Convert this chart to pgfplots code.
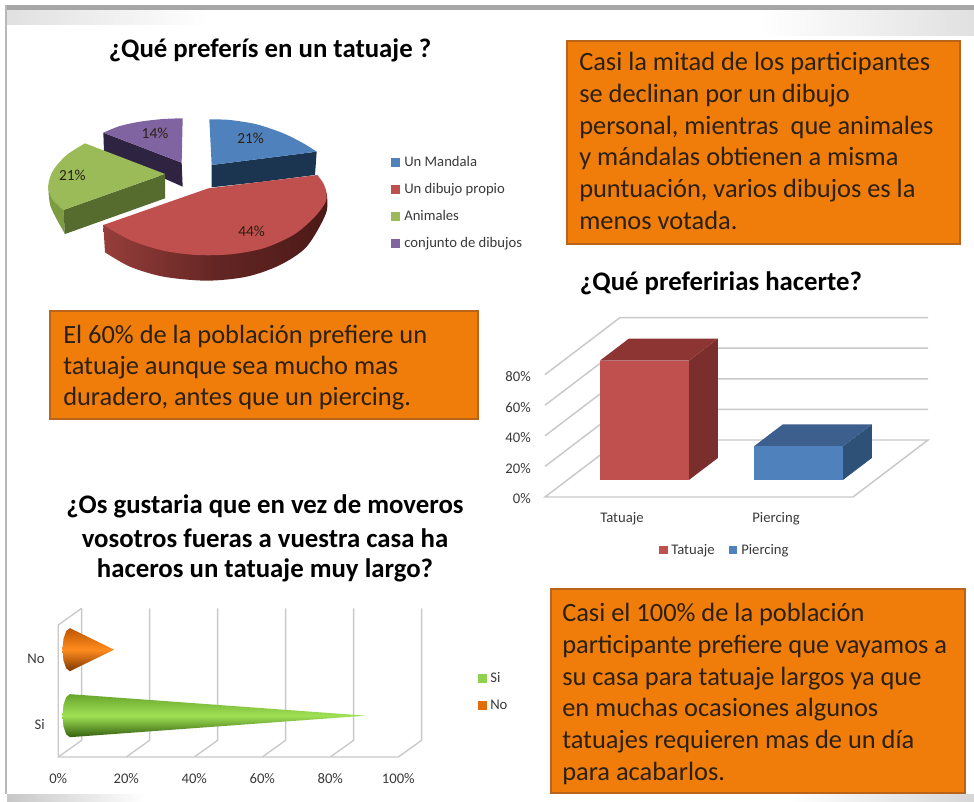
\documentclass[border=0pt]{standalone}
\usepackage{fontspec}
\usepackage{pgfplots}
\pgfplotsset{compat=1.18}
\setmainfont{Carlito}
\definecolor{boxor}{HTML}{F07D09}
\definecolor{boxed}{HTML}{B8641A}
\definecolor{gridc}{HTML}{C9C9C9}
\definecolor{ink}{HTML}{2B2012}
\definecolor{lab}{HTML}{3A3A3A}
\newcommand{\smalltxt}{\fontsize{11pt}{12pt}\selectfont\color{lab}}
\newcommand{\boxtxt}{\fontsize{19.8pt}{22pt}\selectfont\color{ink}}
\newcommand{\titletxt}{\fontsize{20.1pt}{22pt}\selectfont\bfseries\color{black}}
\begin{document}
\begin{tikzpicture}
\begin{scope}[x=0.75pt,y=-0.75pt,yshift=600.75pt]
  \fill[white] (0,0) rectangle (974,801);
  % slide frame
  \fill[left color=black!12,right color=white] (7,10) rectangle (210,25);
  \fill[left color=white,right color=black!12] (760,10) rectangle (974,36);
  \fill[left color=black!22,right color=white] (7,794) rectangle (145,801);
  \fill[left color=white,right color=black!16] (790,794) rectangle (974,801);
  \fill[black!35] (5,5) rectangle (974,10);
  \fill[black!28] (5,5) rectangle (7,794);
  % boxes
  \foreach \a/\b/\c/\d in {567/41/960/244, 50/311/478/419, 551/589/965/793}
    \draw[draw=boxed,fill=boxor,line width=1.1pt] (\a,\b) rectangle (\c,\d);
  % box 1 text
  \foreach \yy/\t in {70.7/Casi la mitad de los participantes,
                      102.4/se declinan por un dibujo,
                      134.1/{personal, mientras\ \ que animales},
                      165.8/y mándalas obtienen a misma,
                      197.5/{puntuación, varios dibujos es la},
                      229.2/menos votada.}
    \node[anchor=base west,inner sep=0pt] at (579,\yy) {\boxtxt\t};
  % box 2 text
  \foreach \yy/\t in {343/El 60\% de la población prefiere un,
                      374/tatuaje aunque sea mucho mas,
                      405/{duradero, antes que un piercing.}}
    \node[anchor=base west,inner sep=0pt] at (63,\yy) {\boxtxt\t};
  % box 3 text
  \foreach \yy/\t in {621.5/Casi el 100\% de la población,
                      653/participante prefiere que vayamos a,
                      685/su casa para tatuaje largos ya que,
                      716.5/en muchas ocasiones algunos,
                      748/tatuajes requieren mas de un día,
                      780/para acabarlos.}
    \node[anchor=base west,inner sep=0pt] at (562,\yy) {\boxtxt\t};
  % titles
  \node[inner sep=0pt] at (270,50) {\titletxt ¿Qué preferís en un tatuaje ?};
  \node[inner sep=0pt] at (721,283) {\titletxt ¿Qué preferirias hacerte?};
  \node[inner sep=0pt] at (265,506) {\titletxt ¿Os gustaria que en vez de moveros};
  \node[inner sep=0pt] at (265,538) {\titletxt vosotros fueras a vuestra casa ha};
  \node[inner sep=0pt] at (265,570) {\titletxt haceros un tatuaje muy largo?};
  % legend of pie
  \foreach \yy/\cc/\t in {162/4F81BD/Un Mandala,189/C0504D/Un dibujo propio,216/9BBB59/Animales,243/8064A2/conjunto de dibujos}{
    \definecolor{tmpc}{HTML}{\cc}
    \fill[tmpc] (391,\yy-4) rectangle (400,\yy+5);
    \node[anchor=mid west,inner sep=0pt,font=\smalltxt] at (404,\yy+1.5) {\t};
  }
  % legend of bars
  \definecolor{tmpc}{HTML}{C0504D}\fill[tmpc] (659,546) rectangle (668,554);
  \node[anchor=mid west,inner sep=0pt,font=\smalltxt] at (671,551.5) {Tatuaje};
  \definecolor{tmpc}{HTML}{4F81BD}\fill[tmpc] (729,546) rectangle (737,554);
  \node[anchor=mid west,inner sep=0pt,font=\smalltxt] at (741,551.5) {Piercing};
  % legend of cones
  \definecolor{tmpc}{HTML}{8FD14F}\fill[tmpc] (478,674) rectangle (487,683);
  \node[anchor=mid west,inner sep=0pt,font=\smalltxt] at (490,679) {Si};
  \definecolor{tmpc}{HTML}{E36C0A}\fill[tmpc] (478,701) rectangle (487,710);
  \node[anchor=mid west,inner sep=0pt,font=\smalltxt] at (490,706) {No};
\end{scope}

% ---------- pie: traced on a 960x630 grid spanning px (30,90)-(350,300)
\begin{axis}[at={(22.5pt,375.75pt)},anchor=south west,scale only axis,width=240pt,height=157.5pt,
  hide axis,clip=false,xmin=0,xmax=960,ymin=0,ymax=630,y dir=reverse]
% purple
\addplot[draw=none,fill={rgb,255:red,47;green,35;blue,66}] coordinates {(220,128)(455,218)(458,290)(222,185)} -- cycle;
\addplot[draw=none,smooth,fill={rgb,255:red,128;green,100;blue,162}] coordinates {(458,85)(400,87)(330,95)(270,108)(220,128)} -- (axis cs:455,218) -- cycle;
% blue
\addplot[draw=none,fill={rgb,255:red,27;green,52;blue,80}] coordinates {(545,225)(860,185)(855,255)(700,275)(545,292)} -- cycle;
\addplot[draw=none,smooth,fill={rgb,255:red,79;green,129;blue,189}] coordinates {(538,88)(600,90)(680,103)(760,130)(820,160)(860,185)} -- (axis cs:545,225) -- cycle;
% green
\addplot[draw=none,smooth,fill={rgb,255:red,125;green,155;blue,65}] coordinates {(55,285)(62,350)(105,432)} -- (axis cs:100,360) -- cycle;
\addplot[draw=none,fill={rgb,255:red,86;green,107;blue,46}] coordinates {(100,360)(405,252)(405,325)(105,432)} -- cycle;
\addplot[draw=none,smooth,fill={rgb,255:red,155;green,187;blue,89}] coordinates {(165,160)(110,195)(70,240)(55,285)(65,325)(100,360)} -- (axis cs:405,252) -- cycle;
% red
\addplot[draw=none,smooth,left color={rgb,255:red,150;green,62;blue,58},right color={rgb,255:red,75;green,25;blue,23},middle color={rgb,255:red,100;green,38;blue,36}] coordinates {(890,310)(888,370)(830,470)(750,525)(650,560)(530,572)(400,560)(300,530)(225,487)} -- (axis cs:220,405) -- cycle;
\addplot[draw=none,smooth,fill={rgb,255:red,192;green,80;blue,77}] coordinates {(862,255)(880,280)(890,310)(885,340)(850,385)(790,435)(700,475)(600,493)(500,495)(400,482)(300,450)(220,405)} -- (axis cs:535,295) -- cycle;
\node[text=ink,font=\fontsize{11.5pt}{12pt}\selectfont] at (axis cs:662,146) {21\%};
\node[text=ink,font=\fontsize{11.5pt}{12pt}\selectfont] at (axis cs:665,425) {44\%};
\node[text=ink,font=\fontsize{11.5pt}{12pt}\selectfont] at (axis cs:127,255) {21\%};
\node[text=ink,font=\fontsize{11.5pt}{12pt}\selectfont] at (axis cs:375,131) {14\%};
\end{axis}

% ---------- 3D bars
\begin{axis}[at={(408.75pt,228pt)},anchor=origin,
  x={(115.5pt,0pt)},y={(56.25pt,42.75pt)},z={(0pt,1.1475pt)},
  hide axis,clip=false,xmin=0,xmax=2,ymin=0,ymax=1,zmin=0,zmax=80]
\addplot3[gridc,line width=1.1pt] coordinates {(0,0,0)(2,0,0)(2,1,0)(0,1,0)} -- cycle;
\addplot3[gridc,line width=1.1pt] coordinates {(0,0,20)(0,1,20)(2,1,20)};
\addplot3[gridc,line width=1.1pt] coordinates {(0,0,40)(0,1,40)(2,1,40)};
\addplot3[gridc,line width=1.1pt] coordinates {(0,0,60)(0,1,60)(2,1,60)};
\addplot3[gridc,line width=1.1pt] coordinates {(0,0,80)(0,1,80)(2,1,80)};
% Tatuaje 78
\addplot3[draw=none,fill={rgb,255:red,122;green,47;blue,45}] coordinates {(0.789,0.298,0)(0.789,0.684,0)(0.789,0.684,78)(0.789,0.298,78)} -- cycle;
\addplot3[draw=none,fill={rgb,255:red,140;green,53;blue,51}] coordinates {(0.211,0.298,78)(0.789,0.298,78)(0.789,0.684,78)(0.211,0.684,78)} -- cycle;
\addplot3[draw=none,fill={rgb,255:red,192;green,80;blue,77}] coordinates {(0.211,0.298,0)(0.789,0.298,0)(0.789,0.298,78)(0.211,0.298,78)} -- cycle;
% Piercing 22
\addplot3[draw=none,fill={rgb,255:red,46;green,81;blue,120}] coordinates {(1.789,0.298,0)(1.789,0.684,0)(1.789,0.684,22)(1.789,0.298,22)} -- cycle;
\addplot3[draw=none,fill={rgb,255:red,60;green,95;blue,141}] coordinates {(1.211,0.298,22)(1.789,0.298,22)(1.789,0.684,22)(1.211,0.684,22)} -- cycle;
\addplot3[draw=none,fill={rgb,255:red,79;green,129;blue,189}] coordinates {(1.211,0.298,0)(1.789,0.298,0)(1.789,0.298,22)(1.211,0.298,22)} -- cycle;
\foreach \v in {0,20,40,60,80}{
  \edef\temp{\noexpand\node[anchor=east,inner sep=0pt,xshift=-10.5pt,yshift=-1.5pt,font=\noexpand\smalltxt] at (axis cs:0,0,\v) {\v\noexpand\%};}\temp
}
\node[inner sep=0pt,yshift=-16.5pt,font=\smalltxt] at (axis cs:0.5,0,0) {Tatuaje};
\node[inner sep=0pt,yshift=-16.5pt,font=\smalltxt] at (axis cs:1.5,0,0) {Piercing};
\end{axis}

% ---------- 3D cones
\begin{axis}[at={(43.7pt,33pt)},anchor=origin,
  x={(2.55pt,0pt)},y={(17.5pt,12.5pt)},z={(0pt,49.5pt)},
  hide axis,clip=false,xmin=0,xmax=100,ymin=0,ymax=1,zmin=0,zmax=2]
\addplot3[gridc,line width=1pt] coordinates {(0,1,2)(0,0,2)(0,0,0)(100,0,0)(100,1,0)(100,1,2)};
\addplot3[gridc,line width=1pt] coordinates {(0,0,0)(0,1,0)(0,1,2)};
\addplot3[gridc,line width=1pt] coordinates {(20,0,0)(20,1,0)(20,1,2)};
\addplot3[gridc,line width=1pt] coordinates {(40,0,0)(40,1,0)(40,1,2)};
\addplot3[gridc,line width=1pt] coordinates {(60,0,0)(60,1,0)(60,1,2)};
\addplot3[gridc,line width=1pt] coordinates {(80,0,0)(80,1,0)(80,1,2)};
% Si 87
\addplot3[draw=none,top color={rgb,255:red,104;green,165;blue,45},bottom color={rgb,255:red,52;green,95;blue,15},middle color={rgb,255:red,160;green,225;blue,85}]
 coordinates {(87,0.5,0.5)(0,0.5,0.826)(-1.1,0.5,0.782)(-1.9,0.5,0.663)(-2.2,0.5,0.5)(-1.9,0.5,0.337)(-1.1,0.5,0.218)(0,0.5,0.174)} -- cycle;
% No 13
\addplot3[draw=none,top color={rgb,255:red,190;green,85;blue,0},bottom color={rgb,255:red,125;green,55;blue,0},middle color={rgb,255:red,255;green,140;blue,30}]
 coordinates {(13,0.5,1.5)(0,0.5,1.826)(-1.1,0.5,1.782)(-1.9,0.5,1.663)(-2.2,0.5,1.5)(-1.9,0.5,1.337)(-1.1,0.5,1.218)(0,0.5,1.174)} -- cycle;
\foreach \v in {0,20,40,60,80,100}{
  \edef\temp{\noexpand\node[inner sep=0pt,yshift=-16pt,font=\noexpand\smalltxt] at (axis cs:\v,0,0) {\v\noexpand\%};}\temp
}
\node[anchor=east,inner sep=0pt,xshift=-10pt,font=\smalltxt] at (axis cs:0,0,0.5) {Si};
\node[anchor=east,inner sep=0pt,xshift=-10pt,yshift=-1pt,font=\smalltxt] at (axis cs:0,0,1.5) {No};
\end{axis}
\end{tikzpicture}
\end{document}
